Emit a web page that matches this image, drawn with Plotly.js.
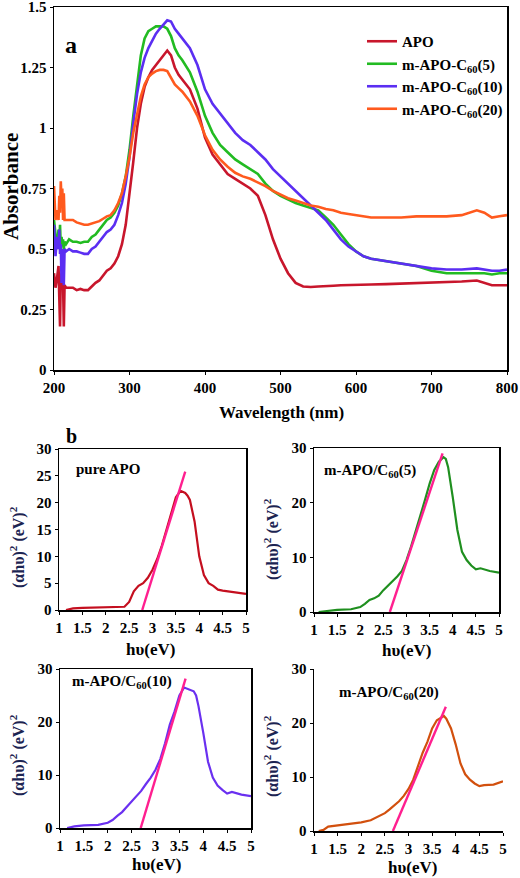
<!DOCTYPE html>
<html>
<head>
<meta charset="utf-8">
<script src="https://cdn.plot.ly/plotly-3.0.1.min.js"></script>
<style>html,body{margin:0;padding:0;background:#fff;}#chart{width:520px;height:878px;}</style>
</head>
<body>
<div id="chart"></div>
<script>
// ---------- Panel a: absorbance spectra ----------
const wavelength = [200,202,204,206,207,208,209,210,211,212,213,214,216,
  220,225,230,235,240,245,250,255,260,265,270,275,280,285,290,295,300,
  305,310,315,320,325,330,335,340,345,350,355,360,365,370,
  380,390,400,410,420,430,440,450,460,470,480,490,500,510,520,530,540,550,560,570,580,590,600,
  610,620,640,660,680,700,720,740,760,770,780,790,800];

const absAPO = [0.40,0.34,0.38,0.43,0.30,0.18,0.40,0.34,0.42,0.36,0.18,0.35,0.34,
  0.34,0.34,0.33,0.335,0.33,0.33,0.345,0.36,0.37,0.39,0.41,0.42,0.44,0.47,0.52,0.60,0.72,
  0.86,1.00,1.10,1.17,1.21,1.24,1.26,1.28,1.30,1.32,1.30,1.25,1.22,1.20,
  1.16,1.08,0.96,0.89,0.85,0.81,0.79,0.77,0.75,0.72,0.64,0.54,0.46,0.40,0.36,0.345,0.343,0.345,0.345,0.348,0.35,0.35,0.35,
  0.352,0.353,0.355,0.357,0.36,0.362,0.362,0.366,0.37,0.36,0.35,0.35,0.35];

const absC60_5 = [0.62,0.55,0.50,0.58,0.52,0.60,0.50,0.55,0.52,0.54,0.50,0.53,0.52,
  0.54,0.53,0.53,0.525,0.53,0.53,0.55,0.56,0.58,0.60,0.62,0.63,0.65,0.68,0.73,0.80,0.91,
  1.05,1.18,1.30,1.37,1.40,1.41,1.42,1.42,1.42,1.41,1.38,1.33,1.30,1.28,
  1.23,1.15,1.05,0.98,0.93,0.90,0.87,0.85,0.83,0.81,0.77,0.74,0.72,0.705,0.69,0.68,0.67,0.66,0.63,0.60,0.56,0.52,0.49,
  0.47,0.46,0.45,0.44,0.43,0.41,0.40,0.40,0.40,0.40,0.395,0.40,0.40];

const absC60_10 = [0.60,0.47,0.55,0.50,0.58,0.48,0.52,0.36,0.50,0.46,0.35,0.50,0.49,
  0.50,0.49,0.49,0.485,0.48,0.48,0.50,0.51,0.53,0.55,0.57,0.58,0.60,0.64,0.69,0.77,0.88,
  1.02,1.14,1.23,1.29,1.33,1.36,1.39,1.41,1.43,1.445,1.44,1.41,1.39,1.37,
  1.33,1.26,1.16,1.10,1.06,1.02,0.98,0.95,0.93,0.90,0.87,0.83,0.80,0.77,0.74,0.71,0.68,0.65,0.62,0.58,0.54,0.51,0.49,
  0.47,0.46,0.45,0.44,0.43,0.42,0.415,0.415,0.42,0.415,0.41,0.41,0.415];

const absC60_20 = [0.76,0.62,0.66,0.62,0.72,0.65,0.78,0.70,0.75,0.62,0.73,0.62,0.62,
  0.62,0.62,0.61,0.605,0.60,0.60,0.605,0.61,0.615,0.625,0.635,0.64,0.66,0.69,0.73,0.80,0.88,
  0.98,1.06,1.13,1.18,1.21,1.225,1.235,1.24,1.24,1.235,1.21,1.18,1.165,1.15,
  1.11,1.05,0.97,0.91,0.87,0.84,0.815,0.80,0.79,0.775,0.76,0.74,0.725,0.71,0.70,0.69,0.68,0.675,0.665,0.66,0.65,0.645,0.64,
  0.635,0.63,0.63,0.63,0.635,0.635,0.635,0.64,0.66,0.65,0.63,0.635,0.64];

const seriesNames = ['APO','m-APO-C<sub>60</sub>(5)','m-APO-C<sub>60</sub>(10)','m-APO-C<sub>60</sub>(20)'];
const xTicksA = [200,300,400,500,600,700,800];
const yTicksA = [0,0.25,0.5,0.75,1,1.25,1.5];
const yTickTextA = ['0','0.25','0.5','0.75','1','1.25','1.5'];

// ---------- Panel b: Tauc plots ----------
const hvAPO = [1.15,1.3,1.5,2.0,2.4,2.5,2.6,2.7,2.8,2.9,3.0,3.1,3.2,3.3,3.4,3.5,3.6,3.7,3.75,3.8,3.9,4.0,4.1,4.2,4.3,4.4,4.5,4.6,4.8,5.0];
const taucAPO = [0,0.3,0.4,0.5,0.6,1.5,3.5,4.5,5.0,6.0,7.5,9.5,12,15,18,21,22.2,21.8,21.3,20.5,16.5,10,6.5,5,4.5,3.8,3.6,3.5,3.2,3.0];
const fitAPO_x = [2.78,3.70];
const fitAPO_y = [0,25.8];

const hvC5 = [1.1,1.3,1.5,1.8,2.0,2.1,2.2,2.3,2.4,2.5,2.6,2.7,2.8,2.9,3.0,3.1,3.2,3.3,3.4,3.5,3.6,3.7,3.8,3.85,3.9,4.0,4.1,4.2,4.3,4.4,4.5,4.6,4.8,5.0];
const taucC5 = [0,0.2,0.4,0.5,0.9,1.5,2.2,2.5,3.0,4.0,4.8,5.6,6.5,7.5,9.5,12,15,17.5,20.5,23.5,26,27.5,28.3,28,26.5,21,15,11,9.5,8.5,7.8,8.0,7.5,7.2];
const fitC5_x = [2.64,3.78];
const fitC5_y = [0,29];

const hvC10 = [1.15,1.3,1.5,1.8,2.0,2.1,2.2,2.3,2.4,2.5,2.6,2.7,2.8,2.9,3.0,3.1,3.2,3.3,3.4,3.5,3.6,3.7,3.8,3.85,3.9,4.0,4.1,4.2,4.3,4.4,4.5,4.6,4.8,5.0];
const taucC10 = [0,0.3,0.5,0.6,1.0,1.5,2.3,3.0,4.0,5.0,6.0,7.0,8.3,9.5,11,13,16,19.5,22,25,26.5,26.2,25.8,25,23,18,12.5,9.5,8,7.2,6.5,6.8,6.3,6.0];
const fitC10_x = [2.69,3.63];
const fitC10_y = [0,28.2];

const hvC20 = [1.1,1.2,1.3,1.5,1.8,2.0,2.2,2.4,2.5,2.6,2.7,2.8,2.9,3.0,3.1,3.2,3.3,3.4,3.5,3.6,3.7,3.75,3.8,3.9,4.0,4.1,4.2,4.3,4.4,4.5,4.6,4.8,5.0];
const taucC20 = [0,0.2,0.8,1.0,1.3,1.6,2.0,2.8,3.3,4.0,4.8,5.5,6.5,7.8,9.5,12,14.5,16.5,19,20.5,21,21.3,20.8,19,16,12.5,10.5,9.5,8.8,8.3,8.5,8.6,9.2];
const fitC20_x = [2.67,3.79];
const fitC20_y = [0,23];

const hvTicks = [1,1.5,2,2.5,3,3.5,4,4.5,5];
const hvTickText = ['1','1.5','2','2.5','3','3.5','4','4.5','5'];

// ---------- styles ----------
const FONT = 'Liberation Serif, Times New Roman, serif';
const colA = ['#c8162c','#22bb22','#5b2ef2','#ff5a1e'];
const colB = ['#c40f1f','#1f8f1f','#6a30f0','#d2500e'];
const fitColor = '#ff1f8f';
const titleColor = '#1c2452';

const W = 520, H = 878;
const px = v => v / W;
const py = v => 1 - v / H;

const traces = [];
const absSeries = [absAPO, absC60_5, absC60_10, absC60_20];
absSeries.forEach((ys, i) => {
  traces.push({x: wavelength, y: ys, type: 'scatter', mode: 'lines', name: seriesNames[i],
    line: {color: colA[i], width: 2.6}, xaxis: 'x', yaxis: 'y'});
});
const panels = [
  [hvAPO, taucAPO, fitAPO_x, fitAPO_y, '2'],
  [hvC5, taucC5, fitC5_x, fitC5_y, '3'],
  [hvC10, taucC10, fitC10_x, fitC10_y, '4'],
  [hvC20, taucC20, fitC20_x, fitC20_y, '5']
];
panels.forEach((p, i) => {
  traces.push({x: p[0], y: p[1], type: 'scatter', mode: 'lines', showlegend: false,
    line: {color: colB[i], width: 2.2}, xaxis: 'x' + p[4], yaxis: 'y' + p[4]});
  traces.push({x: p[2], y: p[3], type: 'scatter', mode: 'lines', showlegend: false,
    line: {color: fitColor, width: 2.4}, xaxis: 'x' + p[4], yaxis: 'y' + p[4]});
});

const tickFont = {family: FONT, size: 15, color: '#000', weight: 'bold'};
function axis(domain, anchor, range, tickvals, ticktext, mirror) {
  return {domain: domain, anchor: anchor, range: range, tickvals: tickvals, ticktext: ticktext,
    showline: true, linecolor: '#000', linewidth: 1.5, mirror: mirror, ticks: 'outside', ticklen: 3,
    tickcolor: '#000', showgrid: false, zeroline: false, tickfont: tickFont, fixedrange: true,
    ticklabeloverflow: 'allow'};
}

const y5 = [0,5,10,15,20,25,30];
const y10 = [0,10,20,30];

const layout = {
  width: W, height: H,
  margin: {l: 0, r: 0, t: 0, b: 0},
  paper_bgcolor: '#fff', plot_bgcolor: '#fff',
  font: {family: FONT, color: '#000'},
  showlegend: true,
  legend: {x: px(362), y: py(25), xanchor: 'left', yanchor: 'top',
    font: {family: FONT, size: 15, color: '#000', weight: 'bold'},
    bgcolor: 'rgba(0,0,0,0)', borderwidth: 0, tracegroupgap: 0, itemwidth: 30},
  xaxis: axis([px(54), px(507)], 'y', [200, 800], xTicksA, xTicksA.map(String), true),
  yaxis: axis([py(370), py(7)], 'x', [0, 1.5], yTicksA, yTickTextA, true),
  xaxis2: axis([px(59), px(246)], 'y2', [1, 5], hvTicks, hvTickText, true),
  yaxis2: axis([py(610), py(449)], 'x2', [0, 30], y5, y5.map(String), true),
  xaxis3: axis([px(314), px(499)], 'y3', [1, 5], hvTicks, hvTickText, true),
  yaxis3: axis([py(612), py(448)], 'x3', [0, 30], y10, y10.map(String), true),
  xaxis4: axis([px(60), px(251)], 'y4', [1, 5], hvTicks, hvTickText, true),
  yaxis4: axis([py(828), py(669)], 'x4', [0, 30], y10, y10.map(String), true),
  xaxis5: axis([px(314), px(503)], 'y5', [1, 5], hvTicks, hvTickText, false),
  yaxis5: axis([py(831), py(669)], 'x5', [0, 30], y10, y10.map(String), false),
  annotations: []
};

function ann(text, x, y, size, opts) {
  return Object.assign({text: text, x: px(x), y: py(y), xref: 'paper', yref: 'paper',
    xanchor: 'center', yanchor: 'middle', showarrow: false,
    font: {family: FONT, size: size, color: '#000', weight: 'bold'}}, opts || {});
}
const A = layout.annotations;
A.push(ann('a', 71, 45, 24));
A.push(ann('Absorbance', 11, 187, 21, {textangle: -90}));
A.push(ann('Wavelength (nm)', 281, 412, 17));
A.push(ann('b', 71, 436, 20));
A.push(ann('pure APO', 108, 469, 15));
A.push(ann('m-APO/C<sub>60</sub>(5)', 370, 471, 15));
A.push(ann('m-APO/C<sub>60</sub>(10)', 122, 682, 15));
A.push(ann('m-APO/C<sub>60</sub>(20)', 389, 693, 15));
A.push(ann('hυ(eV)', 150, 649, 17));
A.push(ann('hυ(eV)', 406, 650, 17));
A.push(ann('hυ(eV)', 156, 864, 17));
A.push(ann('hυ(eV)', 412, 867, 17));
const yt = '(αhυ)<sup>2</sup> (eV)<sup>2</sup>';
const ytFont = {family: FONT, size: 16, color: titleColor, weight: 'bold'};
A.push(ann(yt, 17, 547, 16, {textangle: -90, font: ytFont}));
A.push(ann(yt, 271, 539, 16, {textangle: -90, font: ytFont}));
A.push(ann(yt, 17, 755, 16, {textangle: -90, font: ytFont}));
A.push(ann(yt, 271, 756, 16, {textangle: -90, font: ytFont}));

Plotly.newPlot('chart', traces, layout, {displayModeBar: false, staticPlot: true});
</script>
</body>
</html>
